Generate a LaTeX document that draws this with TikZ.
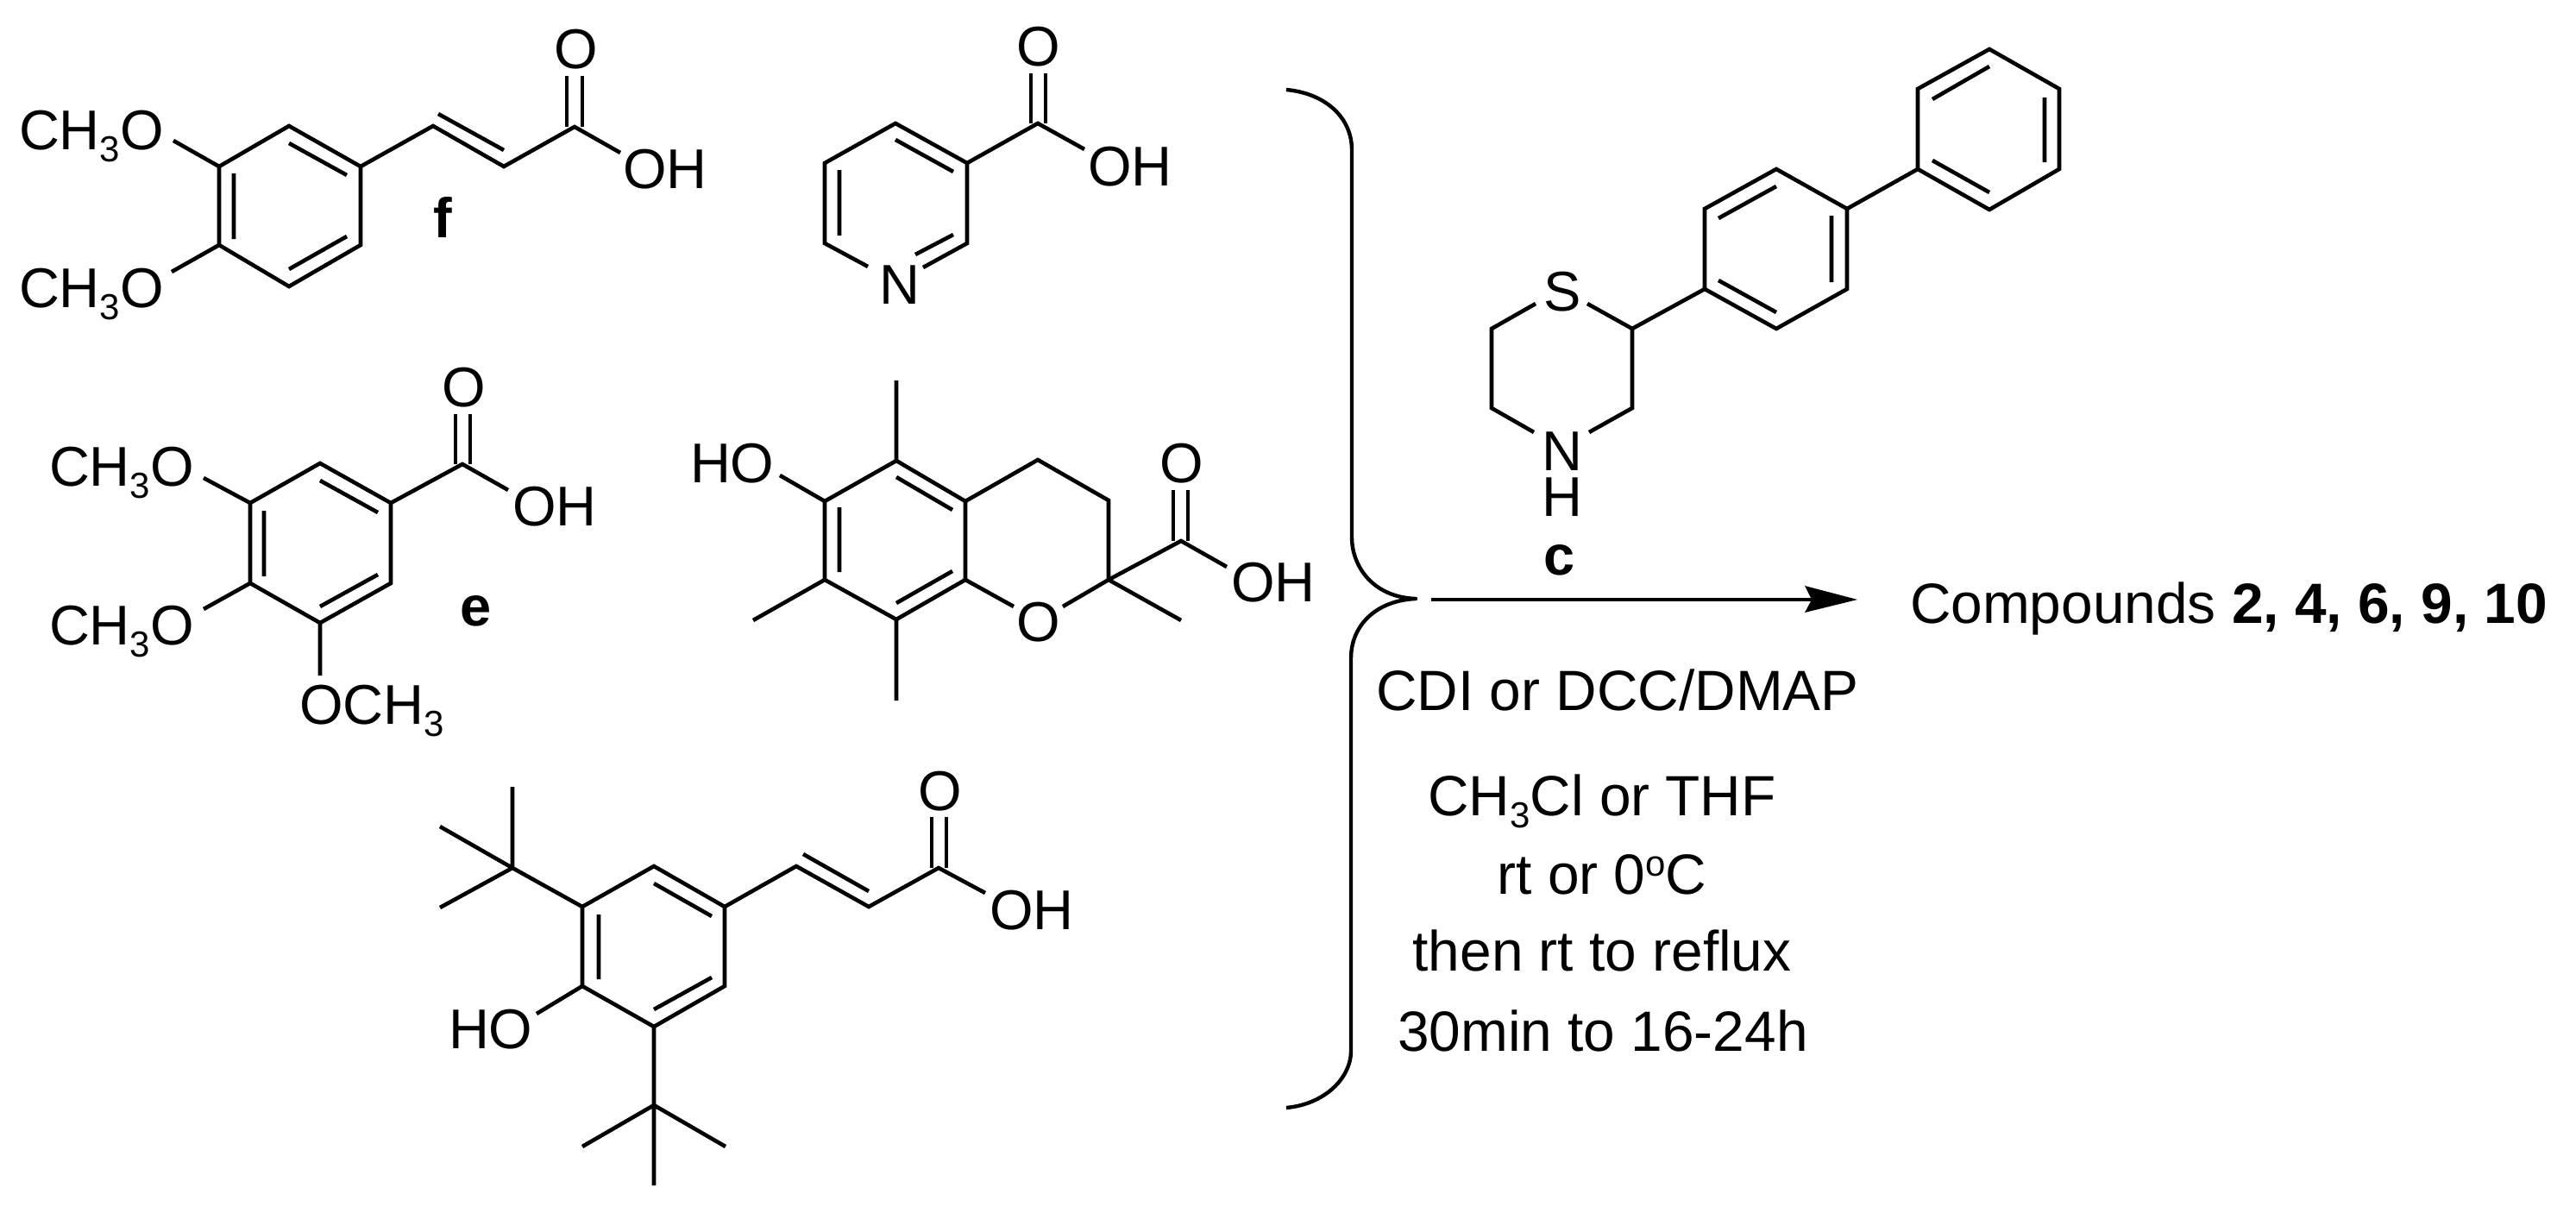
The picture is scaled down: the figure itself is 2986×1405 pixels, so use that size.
\documentclass[tikz,border=0pt]{standalone}
\usepackage{fontspec}
\setmainfont{Liberation Sans}
\newcommand{\mainfs}{\fontsize{65pt}{72pt}\selectfont}
\newcommand{\rgtfs}{\fontsize{65.8pt}{72pt}\selectfont}
\newcommand{\subthree}{\raisebox{-14pt}{\fontsize{42pt}{44pt}\selectfont 3}}
\tikzset{
  bond/.style={line width=4.6pt,line join=miter,line cap=butt,draw=black},
  atom/.style={inner sep=0pt,outer sep=0pt,font=\mainfs,anchor=base west,text=black},
  lab/.style={inner sep=0pt,outer sep=0pt,font=\mainfs\bfseries,anchor=base,text=black},
  reagent/.style={inner sep=0pt,outer sep=0pt,font=\rgtfs,anchor=base,text=black},
  bracket/.style={line width=4.4pt,draw=black,line join=round}
}
\begin{document}
\begin{tikzpicture}[x=1pt,y=-1pt]
\useasboundingbox (0,0) rectangle (2986,1405);

% ---------- f : 3,4-dimethoxycinnamic acid
\coordinate (f1) at (254,193); \coordinate (f2) at (335,146); \coordinate (f3) at (418,193);
\coordinate (f4) at (418,284); \coordinate (f5) at (335,332); \coordinate (f6) at (254,284);
\coordinate (f7) at (502,146); \coordinate (f8) at (584,193); \coordinate (f9) at (666,147);
\node[atom] (fo1) at (22,173) {CH\subthree O};
\node[atom] (fo2) at (22,356) {CH\subthree O};
\node[atom] (fo3) at (642,80) {O};
\node[atom] (foh) at (722,218) {OH};
\node[lab] (flab) at (513,275) {f};
\coordinate (fb1) at (201,163); \coordinate (fb2) at (199,315);
\coordinate (fb3) at (719,177);
\draw[bond] (f1)--(f2)--(f3)--(f4)--(f5)--(f6)--cycle;
\draw[bond] (f1)--(fb1) (f6)--(fb2);
\draw[bond] (f3)--(f7)--(f8)--(f9)--(fb3);
\draw[bond] (335,166)--(402,203) (271,201)--(271,277) (335,312)--(402,274) (508,132)--(584,174);
\draw[bond] (657,147)--(657,88) (675,147)--(675,88);

% ---------- nicotinic acid
\coordinate (n1) at (956,189); \coordinate (n2) at (1038,143); \coordinate (n3) at (1121,189);
\coordinate (n4) at (1121,282); \coordinate (n5) at (956,282);
\coordinate (n6) at (1203,143);
\coordinate (nb1) at (1006,309); \coordinate (nb2) at (1070,310); \coordinate (nb3) at (1257,173);
\node[atom] (nn) at (1019,352) {N};
\node[atom] (no) at (1178,77) {O};
\node[atom] (noh) at (1261,215) {OH};
\draw[bond] (nb1)--(n5)--(n1)--(n2)--(n3)--(n4)--(nb2);
\draw[bond] (n3)--(n6)--(nb3);
\draw[bond] (973,197)--(973,273) (1038,162)--(1105,199) (1061,295)--(1105,272);
\draw[bond] (1195,143)--(1195,85) (1212,143)--(1212,85);

% ---------- e : trimethoxybenzoic acid
\coordinate (e1) at (290,583); \coordinate (e2) at (371,537); \coordinate (e3) at (453,583);
\coordinate (e4) at (453,676); \coordinate (e5) at (371,722); \coordinate (e6) at (290,676);
\coordinate (e7) at (536,538);
\coordinate (eb1) at (236,554); \coordinate (eb2) at (236,706); \coordinate (eb3) at (371,783);
\coordinate (eb4) at (589,568);
\node[atom] (eo1) at (57,563) {CH\subthree O};
\node[atom] (eo2) at (57,747) {CH\subthree O};
\node[atom] (eo3) at (347,839) {OCH\subthree};
\node[atom] (eo4) at (512,471) {O};
\node[atom] (eoh) at (594,609) {OH};
\node[lab] (elab) at (552,725) {e};
\draw[bond] (e1)--(e2)--(e3)--(e4)--(e5)--(e6)--cycle;
\draw[bond] (e1)--(eb1) (e6)--(eb2) (e5)--(eb3);
\draw[bond] (e3)--(e7)--(eb4);
\draw[bond] (371,557)--(438,594) (306,592)--(306,668) (371,703)--(438,666);
\draw[bond] (528,538)--(528,480) (545,538)--(545,480);

% ---------- Trolox
\coordinate (t1) at (956,581); \coordinate (t2) at (1039,534); \coordinate (t3) at (1119,581);
\coordinate (t4) at (1119,672); \coordinate (t5) at (1039,718); \coordinate (t6) at (956,672);
\coordinate (t7) at (1203,533); \coordinate (t8) at (1285,580); \coordinate (t9) at (1285,672);
\coordinate (t10) at (1369,627);
\coordinate (tm1) at (1039,441); \coordinate (tm2) at (1039,812); \coordinate (tm3) at (873,719);
\coordinate (tm4) at (1369,719);
\coordinate (tb1) at (904,551); \coordinate (tb2) at (1175,703); \coordinate (tb3) at (1232,703);
\coordinate (tb4) at (1422,657);
\node[atom] (tho) at (800,559) {HO};
\node[atom] (to) at (1178,743) {O};
\node[atom] (to2) at (1344,559) {O};
\node[atom] (toh) at (1427,697) {OH};
\draw[bond] (t1)--(t2)--(t3)--(t4)--(t5)--(t6)--cycle;
\draw[bond] (t3)--(t7)--(t8)--(t9)--(tb3);
\draw[bond] (t4)--(tb2);
\draw[bond] (t2)--(tm1) (t5)--(tm2) (t6)--(tm3) (t9)--(tm4) (t1)--(tb1);
\draw[bond] (t9)--(t10)--(tb4);
\draw[bond] (1039,553)--(1104,591) (973,588)--(973,663) (1039,699)--(1104,662);
\draw[bond] (1360,627)--(1360,568) (1377,627)--(1377,568);

% ---------- di-tert-butyl hydroxycinnamic acid
\coordinate (b1) at (675,1051); \coordinate (b2) at (758,1004); \coordinate (b3) at (840,1051);
\coordinate (b4) at (840,1143); \coordinate (b5) at (758,1190); \coordinate (b6) at (675,1143);
\coordinate (b7) at (923,1004); \coordinate (b8) at (1007,1051); \coordinate (b9) at (1088,1006);
\coordinate (q1) at (594,1006); \coordinate (q1a) at (594,912); \coordinate (q1b) at (510,958); \coordinate (q1c) at (510,1052);
\coordinate (q2) at (758,1281); \coordinate (q2a) at (675,1329); \coordinate (q2b) at (841,1329); \coordinate (q2c) at (758,1374);
\coordinate (bb1) at (622,1175); \coordinate (bb2) at (1142,1035);
\node[atom] (bho) at (520,1215) {HO};
\node[atom] (bo) at (1064,939) {O};
\node[atom] (boh) at (1147,1077) {OH};
\draw[bond] (b1)--(b2)--(b3)--(b4)--(b5)--(b6)--cycle;
\draw[bond] (b3)--(b7)--(b8)--(b9)--(bb2);
\draw[bond] (b1)--(q1) (q1)--(q1a) (q1)--(q1b) (q1)--(q1c);
\draw[bond] (b5)--(q2) (q2)--(q2a) (q2)--(q2b) (q2)--(q2c);
\draw[bond] (b6)--(bb1);
\draw[bond] (758,1024)--(825,1062) (694,1060)--(694,1135) (758,1170)--(825,1133) (931,990)--(1007,1033);
\draw[bond] (1080,1006)--(1080,947) (1097,1006)--(1097,947);

% ---------- c : 2-(biphenyl-4-yl)thiomorpholine
\coordinate (c1) at (1729,381); \coordinate (c2) at (1729,473); \coordinate (c3) at (1892,381); \coordinate (c4) at (1892,473);
\coordinate (cb1) at (1780,352); \coordinate (cb2) at (1840,352); \coordinate (cb3) at (1778,501); \coordinate (cb4) at (1842,501);
\coordinate (p1) at (1976,335); \coordinate (p2) at (1976,242); \coordinate (p3) at (2059,196);
\coordinate (p4) at (2141,242); \coordinate (p5) at (2141,335); \coordinate (p6) at (2059,381);
\coordinate (r1) at (2223,196); \coordinate (r2) at (2223,103); \coordinate (r3) at (2306,57);
\coordinate (r4) at (2387,103); \coordinate (r5) at (2387,196); \coordinate (r6) at (2306,243);
\node[atom] (cs) at (1789,360) {S};
\node[inner sep=0pt,outer sep=0pt,anchor=south,align=center,font=\fontsize{65pt}{53pt}\selectfont,text=black] (cn) at (1811,598) {N\\H};
\node[lab] (clab) at (1808,666) {c};
\draw[bond] (cb1)--(c1)--(c2)--(cb3);
\draw[bond] (cb2)--(c3)--(c4)--(cb4);
\draw[bond] (c3)--(p1);
\draw[bond] (p1)--(p2)--(p3)--(p4)--(p5)--(p6)--cycle;
\draw[bond] (p4)--(r1);
\draw[bond] (r1)--(r2)--(r3)--(r4)--(r5)--(r6)--cycle;
\draw[bond] (1992,253)--(2059,216) (2123,250)--(2123,327) (1992,325)--(2059,362);
\draw[bond] (2240,115)--(2306,77) (2370,113)--(2370,188) (2240,186)--(2306,223);

% ---------- bracket
\coordinate (brtop) at (1491,104); \coordinate (brtip) at (1641,694); \coordinate (brbot) at (1491,1284);
\draw[bracket] (brtop) .. controls (1535,108) and (1567,135) .. (1567,174) -- (1567,623)
   .. controls (1567,655) and (1590,692) .. (brtip)
   .. controls (1595,696) and (1566,725) .. (1566,763) -- (1566,1218)
   .. controls (1566,1250) and (1535,1280) .. (brbot);

% ---------- arrow
\node[atom,font=\rgtfs] (prod) at (2214,722) {Compounds \textbf{2, 4, 6, 9, 10}};
\coordinate (arrs) at (1659,695); \coordinate (arre) at (2100,695);
\draw[line width=4.4pt] (arrs)--(arre);
\fill[black] (2153,695)--(2092,679)--(2100,695)--(2092,710)--cycle;

% ---------- reagents
\node[reagent] (r1t) at (1875,823) {CDI or DCC/DMAP};
\node[reagent] (r2t) at (1857,945) {CH\subthree Cl or THF};
\node[reagent] (r3t) at (1857,1036) {rt or 0\raisebox{21pt}{\fontsize{42pt}{44pt}\selectfont o}C};
\node[reagent] (r4t) at (1857,1125) {then rt to reflux};
\node[reagent] (r5t) at (1858,1218) {30min to 16-24h};
\end{tikzpicture}
\end{document}
